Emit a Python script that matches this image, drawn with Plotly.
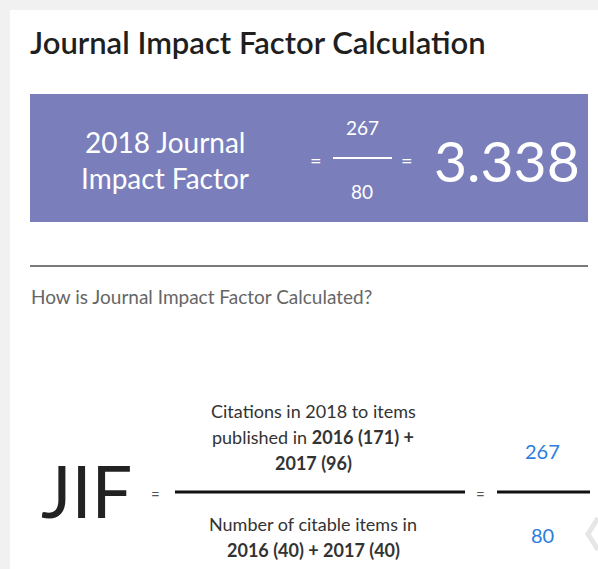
import plotly.graph_objects as go

# ---- data ----
jif_year = 2018
window_years = [2016, 2017]
citations = [171, 96]
citable_items = [40, 40]
total_citations = 267
total_items = 80
jif_value = "3.338"

W, H = 598, 569
FONT = "Lato"
PURPLE = "#7a7fbb"
BLUE = "#2b7de0"

fig = go.Figure()
fig.update_layout(
    width=W, height=H, margin=dict(l=0, r=0, t=0, b=0),
    paper_bgcolor="#f1f1f1", plot_bgcolor="rgba(0,0,0,0)",
    xaxis=dict(range=[0, W], visible=False, fixedrange=True),
    yaxis=dict(range=[H, 0], visible=False, fixedrange=True),
    showlegend=False,
)

shapes = []
shapes.append(dict(type="rect", x0=10, x1=W + 5, y0=10, y1=H + 5,
                   fillcolor="white", line=dict(width=0), layer="below"))
shapes.append(dict(type="rect", x0=30, x1=588, y0=94, y1=222,
                   fillcolor=PURPLE, line=dict(width=0), layer="below"))
shapes.append(dict(type="line", x0=333, x1=392, y0=158, y1=158,
                   line=dict(color="white", width=2)))
shapes.append(dict(type="line", x0=30, x1=588, y0=266, y1=266,
                   line=dict(color="#7a7a7a", width=2)))
shapes.append(dict(type="line", x0=175, x1=465, y0=492, y1=492,
                   line=dict(color="#111111", width=3)))
shapes.append(dict(type="line", x0=497, x1=590, y0=492, y1=492,
                   line=dict(color="#111111", width=3)))
shapes.append(dict(type="path", path="M 598 518 L 588 534 L 598 550",
                   line=dict(color="#e6e6e6", width=5)))
fig.update_layout(shapes=shapes)


def ann(x, y, text, size, color, xanchor="center", weight=None):
    font = dict(family=FONT, size=size, color=color)
    if weight:
        font["weight"] = weight
    fig.add_annotation(x=x, y=y, text=text, showarrow=False, xanchor=xanchor,
                       yanchor="middle", font=font, xref="x", yref="y")


ann(28, 42, "Journal Impact Factor Calculation", 31, "#1f1f1f", xanchor="left", weight=600)

ann(165, 142, f"{jif_year} Journal", 28, "white")
ann(165, 178, "Impact Factor", 28, "white")
ann(316, 160, "=", 20, "white")
ann(362, 127, f"{total_citations}", 19, "white")
ann(362, 191, f"{total_items}", 19, "white")
ann(407, 160, "=", 20, "white")
ann(507, 160, jif_value, 57, "white")

ann(29, 296, "How is Journal Impact Factor Calculated?", 19, "#666666", xanchor="left")

ann(86, 490, "JIF", 72, "#222222")
ann(155, 494, "=", 15, "#555555")
ann(313, 411, f"Citations in {jif_year} to items", 18, "#333333")
ann(313, 437, f"published in <b>{window_years[0]} ({citations[0]}) +</b>", 18, "#333333")
ann(313, 463, f"<b>{window_years[1]} ({citations[1]})</b>", 18, "#333333")
ann(313, 524, "Number of citable items in", 18, "#333333")
ann(313, 550, f"<b>{window_years[0]} ({citable_items[0]}) + {window_years[1]} ({citable_items[1]})</b>", 18, "#333333")
ann(480, 494, "=", 15, "#555555")
ann(542, 451, f"{total_citations}", 20, BLUE)
ann(542, 535, f"{total_items}", 20, BLUE)

fig.write_html("out.html", config={"displayModeBar": False},
               post_script="document.body.style.margin='0';document.body.style.overflow='hidden';")
